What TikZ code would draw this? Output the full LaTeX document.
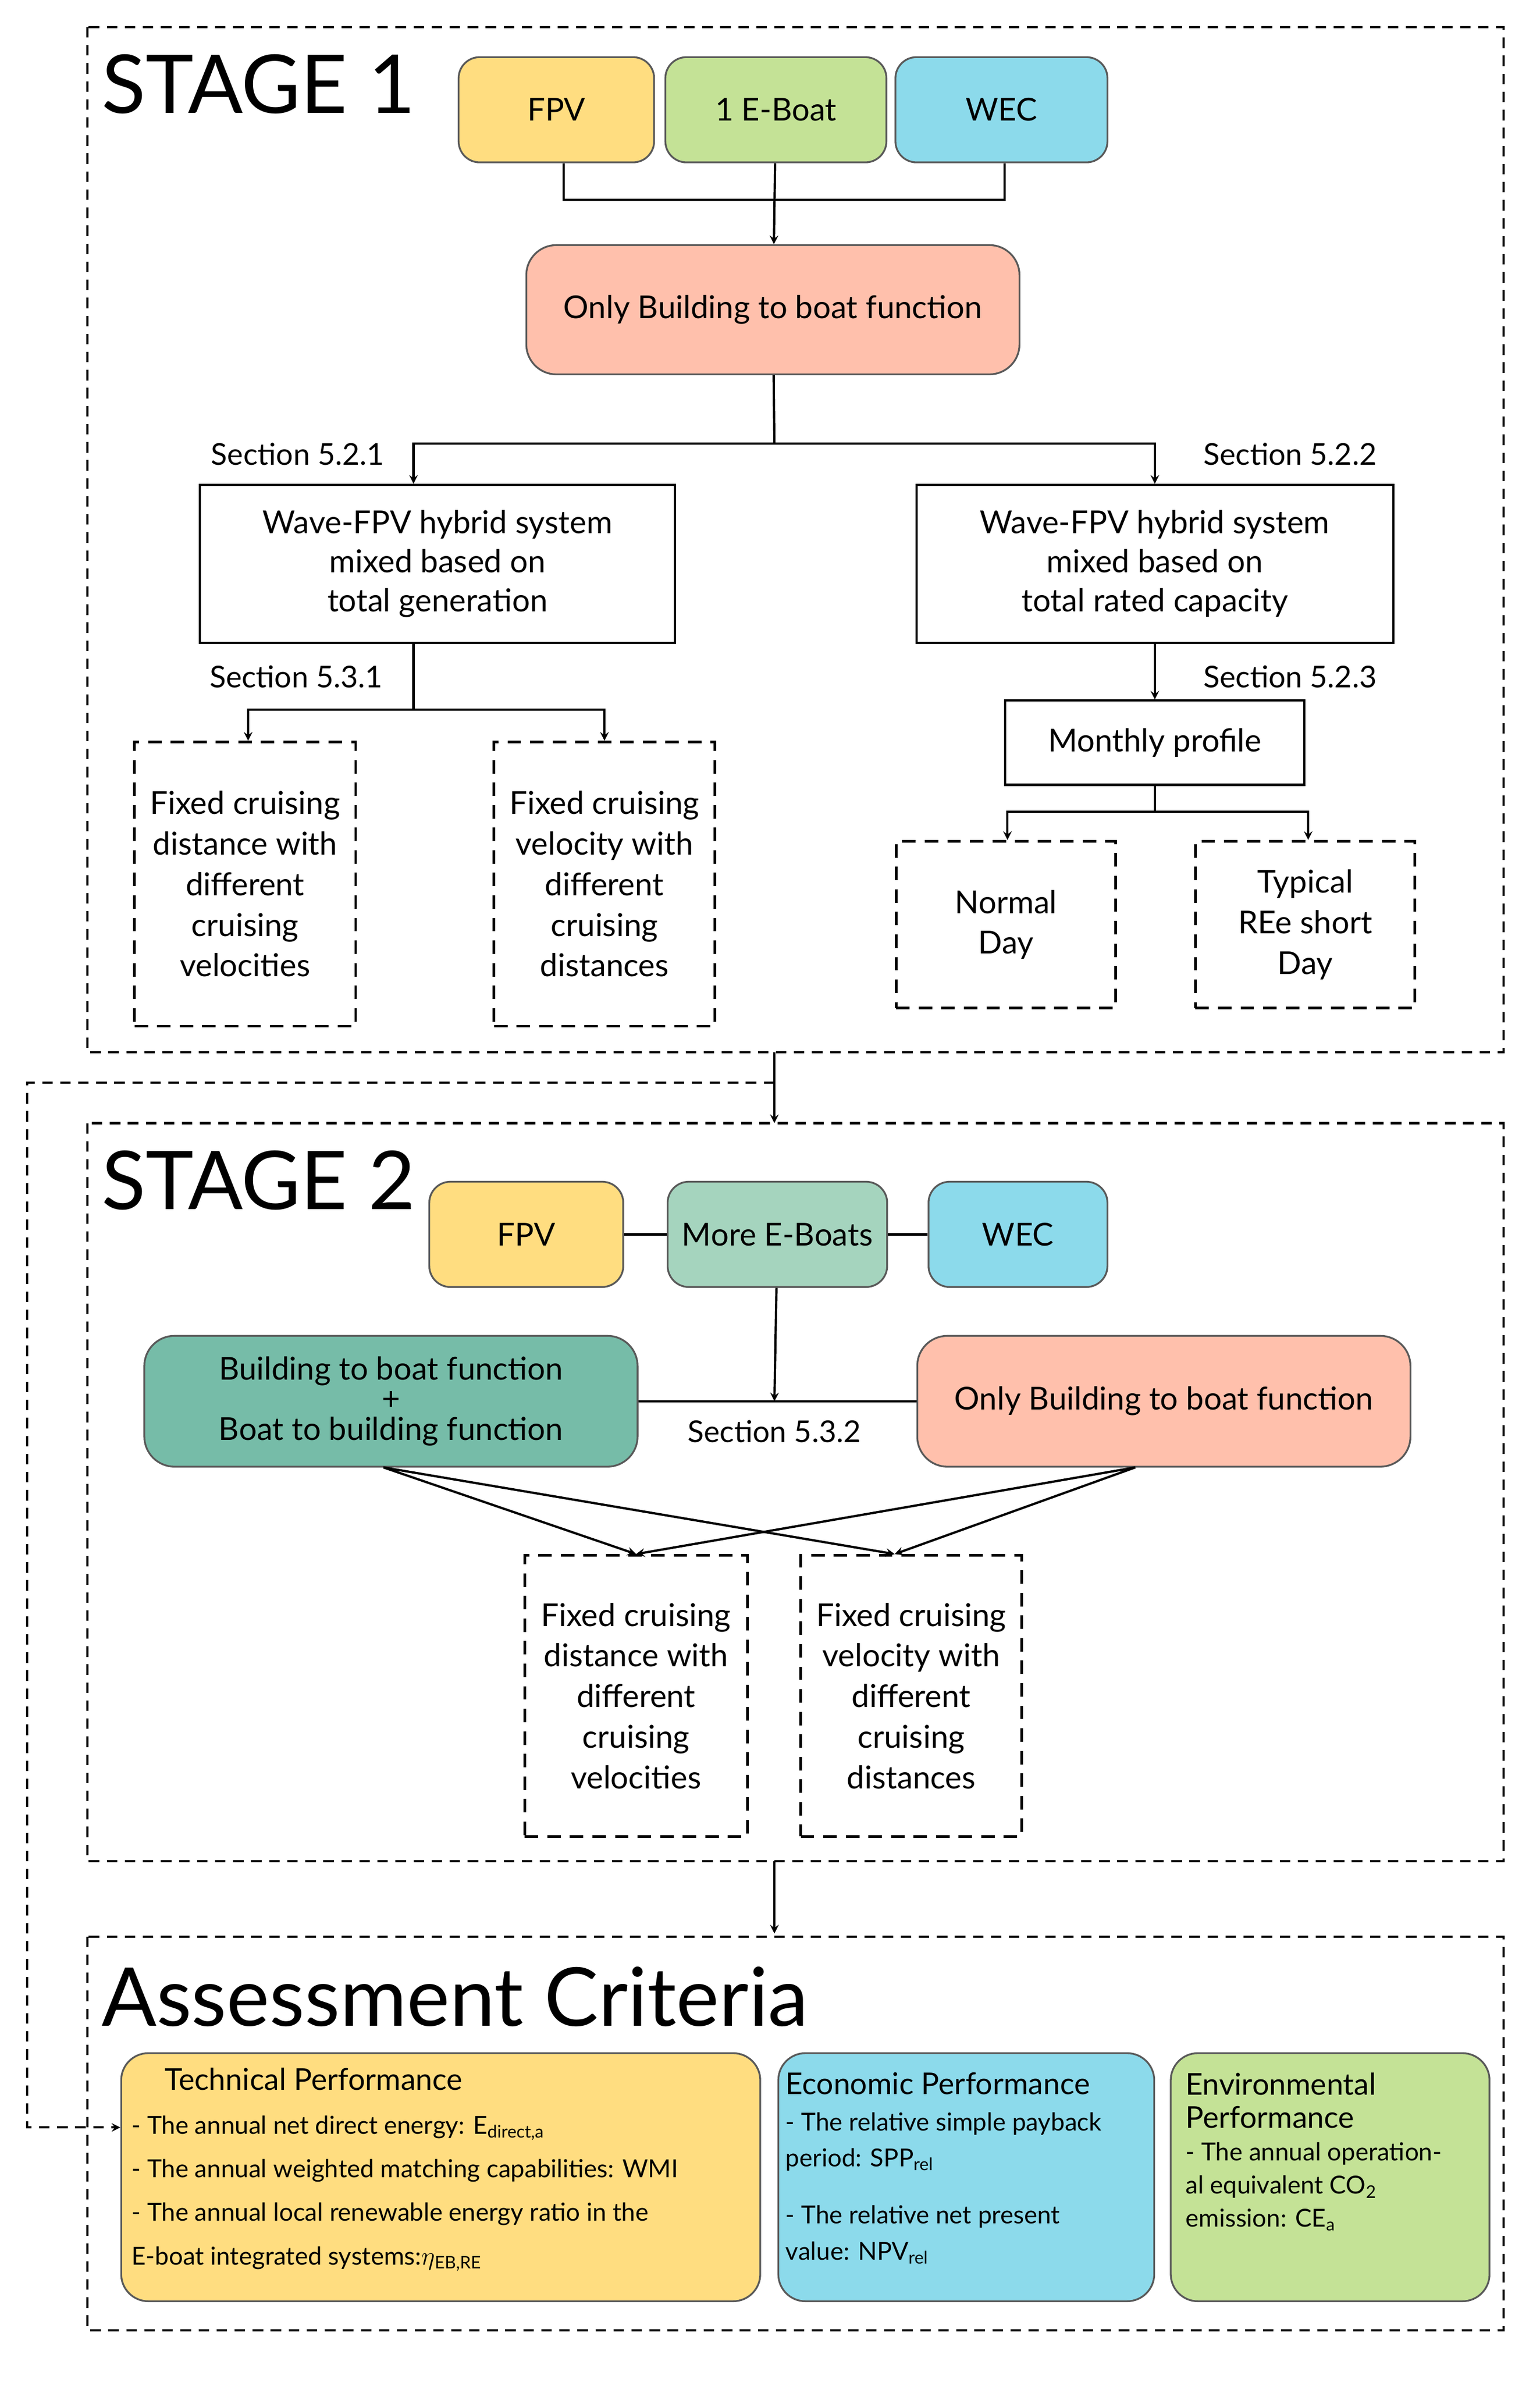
\documentclass[tikz,border=0pt]{standalone}
\usepackage{fontspec}
\setmainfont{Lato}
\usepackage{tikz}
\usetikzlibrary{arrows,shapes,positioning}
\usepackage{xcolor}
\definecolor{fyellow}{RGB}{255,221,128}
\definecolor{fgreen}{RGB}{196,226,150}
\definecolor{fblue}{RGB}{140,218,235}
\definecolor{fpink}{RGB}{255,192,172}
\definecolor{fteal}{RGB}{165,212,190}
\definecolor{fdteal}{RGB}{118,188,168}
\tikzstyle{arrow} = [line width=1.5pt,->,>=stealth]
\tikzstyle{line} = [line width=1.5pt]
\tikzstyle{stage} = [draw, dash pattern=on 7pt off 5pt, line width=1.5pt]
\tikzstyle{pill} = [draw=gray!70!black, line width=1.2pt, rounded corners=14pt, font=\fontsize{21}{24}\selectfont]
\tikzstyle{plain} = [draw, line width=1.5pt, align=center, font=\fontsize{21}{26}\selectfont]
\tikzstyle{case} = [draw, dash pattern=on 9pt off 6pt, line width=1.7pt, align=center, font=\fontsize{21}{27}\selectfont, minimum width=147pt, inner sep=2pt]
\tikzstyle{sec} = [font=\fontsize{20}{24}\selectfont]
\tikzstyle{crit} = [draw=gray!70!black, line width=1.2pt, rounded corners=18pt, anchor=north west, align=left, inner sep=0pt]

\begin{document}
\begin{tikzpicture}[x=1pt, y=-1pt]
\useasboundingbox (0,0) rectangle (1024,1585);

% Stage 1
\draw[stage] (58,18) rectangle (1000,700);
\node[anchor=west, font=\fontsize{54}{54}\selectfont] (s1) at (64,56) {STAGE 1};
\node[pill, fill=fyellow, minimum width=130pt, minimum height=70pt] (fpv1) at (370,73) {FPV};
\node[pill, fill=fgreen, minimum width=147pt, minimum height=70pt] (eboat1) at (516,73) {1 E-Boat};
\node[pill, fill=fblue, minimum width=141pt, minimum height=70pt] (wec1) at (666,73) {WEC};
\node[pill, fill=fpink, minimum width=328pt, minimum height=86pt, rounded corners=20pt] (only1) at (514,206) {Only Building to boat function};

\node[plain, minimum width=316pt, minimum height=105pt] (gen) at (291,375) {Wave-FPV hybrid system\\mixed based on\\total generation};
\node[plain, minimum width=317pt, minimum height=105pt] (cap) at (768,375) {Wave-FPV hybrid system\\mixed based on\\total rated capacity};
\node[sec] (l521) at (198,302) {Section 5.2.1};
\node[sec] (l522) at (858,302) {Section 5.2.2};
\node[sec] (l531) at (197,450) {Section 5.3.1};
\node[sec] (l523) at (858,450) {Section 5.2.3};

\node[case, minimum height=189pt] (dist1) at (163,588) {Fixed cruising\\distance with\\different\\cruising\\velocities};
\node[case, minimum height=189pt] (velo1) at (402,588) {Fixed cruising\\velocity with\\different\\cruising\\distances};
\node[plain, minimum width=199pt, minimum height=56pt] (month) at (768,494) {Monthly profile};
\node[case, minimum height=111pt, minimum width=146pt] (normal) at (669,615) {Normal\\Day};
\node[case, minimum height=111pt, minimum width=146pt] (short) at (868,615) {Typical\\REe short\\Day};

% Connections stage 1
\coordinate (j1) at (516,133);
\draw[line] (fpv1.south -| 375,0) |- (j1);
\draw[line] (wec1.south -| 668,0) |- (j1);
\draw[arrow] (eboat1) -- (only1);
\coordinate (j2) at (515,295);
\draw[line] (only1) -- (j2);
\draw[arrow] (j2) -| (gen.north -| 275,0);
\draw[arrow] (j2) -| (cap);
\coordinate (j3) at (275,472);
\draw[line] (gen.south -| j3) -- (j3);
\draw[arrow] (j3) -| (dist1.north -| 165,0);
\draw[arrow] (j3) -| (velo1);
\draw[arrow] (cap) -- (month);
\coordinate (j4) at (768,540);
\draw[line] (month) -- (j4);
\draw[arrow] (j4) -| (normal.north -| 670,0);
\draw[arrow] (j4) -| (short.north -| 870,0);

% Stage 2
\draw[stage] (58,747) rectangle (1000,1238);
\node[anchor=west, font=\fontsize{54}{54}\selectfont] (s2) at (64,785) {STAGE 2};
\node[pill, fill=fyellow, minimum width=129pt, minimum height=70pt] (fpv2) at (350,821) {FPV};
\node[pill, fill=fteal, minimum width=146pt, minimum height=70pt] (eboat2) at (517,821) {More E-Boats};
\node[pill, fill=fblue, minimum width=119pt, minimum height=70pt] (wec2) at (677,821) {WEC};
\node[pill, fill=fdteal, minimum width=328pt, minimum height=87pt, rounded corners=20pt, align=center, font=\fontsize{21}{20}\selectfont] (both) at (260,932) {Building to boat function\\+\\Boat to building function};
\node[pill, fill=fpink, minimum width=328pt, minimum height=87pt, rounded corners=20pt] (only2) at (774,932) {Only Building to boat function};
\node[sec] (l532) at (515,952) {Section 5.3.2};
\node[case, minimum height=187pt, minimum width=148pt] (dist2) at (423,1128) {Fixed cruising\\distance with\\different\\cruising\\velocities};
\node[case, minimum height=187pt] (velo2) at (606,1128) {Fixed cruising\\velocity with\\different\\cruising\\distances};

% Connections stage 2
\draw[line] (fpv2) -- (eboat2);
\draw[line] (eboat2) -- (wec2);
\draw[line] (both.east) -- (only2.west);
\coordinate (j5) at (515,932);
\draw[arrow] (eboat2) -- (j5);
\coordinate (b1) at (255,976);
\coordinate (b2) at (755,976);
\draw[arrow] (b1) -- (dist2.north);
\draw[arrow] (b1) -- (velo2.north -| 595,0);
\draw[arrow] (b2) -- (dist2.north);
\draw[arrow] (b2) -- (velo2.north -| 595,0);
\coordinate (s1b) at (515,700);
\coordinate (s2t) at (515,747);
\draw[arrow] (s1b) -- (s2t);
\coordinate (s2b) at (515,1238);
\coordinate (act) at (515,1286);
\draw[arrow] (s2b) -- (act);

% Assessment
\draw[stage] (58,1288) rectangle (1000,1550);
\node[anchor=west, font=\fontsize{54}{54}\selectfont] (ac) at (64,1328) {Assessment Criteria};
\node[crit, fill=fyellow, minimum width=425pt, minimum height=165pt] (tech) at (80,1365) {};
\node[crit, fill=fblue, minimum width=250pt, minimum height=165pt] (econ) at (517,1365) {};
\node[crit, fill=fgreen, minimum width=212pt, minimum height=165pt] (env) at (778,1365) {};
\node[anchor=north west, align=left, font=\fontsize{16.5}{29}\selectfont] (techt) at (84,1372)
  {\hspace*{22pt}{\fontsize{20}{24}\selectfont Technical Performance}\\
   - The annual net direct energy: E\textsubscript{direct,a}\\
   - The annual weighted matching capabilities: WMI\\
   - The annual local renewable energy ratio in the\\
   E-boat integrated systems:$\eta$\textsubscript{EB,RE}};
\node[anchor=north west, align=left, font=\fontsize{16.5}{24}\selectfont] (econt) at (519,1375)
  {{\fontsize{20}{24}\selectfont Economic Performance}\\
   - The relative simple payback\\
   period: SPP\textsubscript{rel}\\[14pt]
   - The relative net present\\
   value: NPV\textsubscript{rel}};
\node[anchor=north west, align=left, font=\fontsize{16.5}{22}\selectfont] (envt) at (785,1375)
  {{\fontsize{20}{26}\selectfont Environmental}\\
   {\fontsize{20}{26}\selectfont Performance}\\
   - The annual operation-\\
   al equivalent CO\textsubscript{2}\\
   emission: CE\textsubscript{a}};

% Feedback link
\coordinate (fb1) at (515,720);
\coordinate (fb2) at (18,720);
\coordinate (fb3) at (18,1415);
\draw[->, >=stealth, dash pattern=on 7pt off 5pt, line width=1.5pt] (fb1) -- (fb2) -- (fb3) -- (tech.west |- fb3);
\end{tikzpicture}
\end{document}
